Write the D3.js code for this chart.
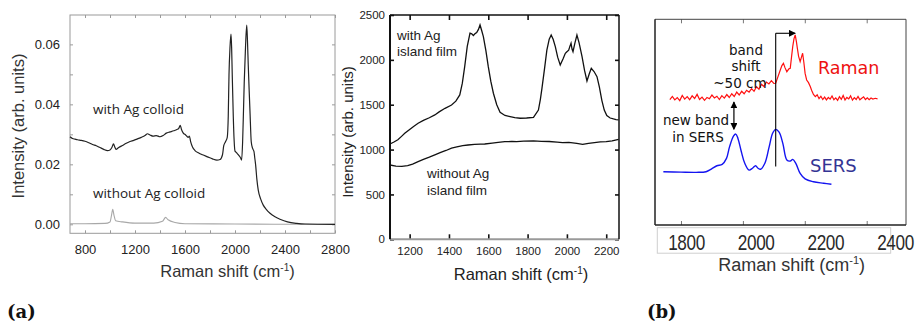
<!DOCTYPE html>
<html>
<head>
<meta charset="utf-8">
<script src="https://cdn.jsdelivr.net/npm/d3@7"></script>
<style>
  body { margin: 0; background: #fff; }
  svg { display: block; }
</style>
</head>
<body>
<svg id="fig" width="918" height="322"></svg>
<script>
// ---------------- Panel (a), left: Ag colloid spectra ----------------
const colloidShift = [680, 700, 720, 740, 770, 800, 830, 860, 890, 920, 950, 980, 1000, 1015, 1028, 1038, 1048, 1070, 1100, 1130, 1160, 1190, 1220, 1250, 1280, 1300, 1320, 1345, 1370, 1400, 1425, 1450, 1480, 1510, 1535, 1550, 1562, 1572, 1585, 1605, 1625, 1635, 1645, 1660, 1680, 1710, 1740, 1780, 1820, 1855, 1880, 1900, 1910, 1925, 1938, 1946, 1952, 1960, 1968, 1973, 1978, 1986, 1993, 2000, 2010, 2018, 2026, 2034, 2044, 2053, 2061, 2068, 2074, 2084, 2094, 2100, 2106, 2113, 2120, 2130, 2141, 2152, 2158, 2165, 2175, 2186, 2205, 2226, 2250, 2280, 2320, 2360, 2420, 2494, 2560, 2800];
const withColloid = [0.0292, 0.0286, 0.0284, 0.0282, 0.0280, 0.0277, 0.0272, 0.0266, 0.0262, 0.0256, 0.0250, 0.0246, 0.0248, 0.0256, 0.0268, 0.0258, 0.0250, 0.0256, 0.0263, 0.0270, 0.0276, 0.0280, 0.0285, 0.0290, 0.0296, 0.0302, 0.0298, 0.0294, 0.0296, 0.0292, 0.0296, 0.0304, 0.0308, 0.0312, 0.0316, 0.0320, 0.0330, 0.0316, 0.0305, 0.0298, 0.0290, 0.0294, 0.0276, 0.0258, 0.0246, 0.0238, 0.0232, 0.0225, 0.0218, 0.0214, 0.0216, 0.0232, 0.0262, 0.0276, 0.0290, 0.0360, 0.0498, 0.0590, 0.0634, 0.0590, 0.0498, 0.0364, 0.0280, 0.0244, 0.0240, 0.0236, 0.0232, 0.0228, 0.0222, 0.0214, 0.0275, 0.0380, 0.0475, 0.0590, 0.0664, 0.0610, 0.0531, 0.0450, 0.0375, 0.0275, 0.0253, 0.0242, 0.0222, 0.0198, 0.0150, 0.0114, 0.0085, 0.0064, 0.0050, 0.0037, 0.0025, 0.0017, 0.0008, 0.0003, 0.0001, 0.0000];
const plainShift = [680, 800, 960, 1000, 1012, 1022, 1032, 1045, 1100, 1200, 1350, 1420, 1445, 1465, 1520, 1600, 2000, 2400, 2800];
const withoutColloid = [0.0002, 0.0002, 0.0003, 0.0008, 0.0030, 0.0050, 0.0030, 0.0012, 0.0008, 0.0004, 0.0004, 0.0010, 0.0023, 0.0015, 0.0006, 0.0002, 0.0001, 0.0000, 0.0000];
const colloidXLabels = [800, 1200, 1600, 2000, 2400, 2800];
const colloidXMinor = [800, 1000, 1200, 1400, 1600, 1800, 2000, 2200, 2400, 2600, 2800];
const colloidYLabels = [0, 0.02, 0.04, 0.06];
const colloidYMinor = [0, 0.01, 0.02, 0.03, 0.04, 0.05, 0.06];

// ---------------- Panel (a), middle: Ag island film spectra ----------------
const filmShift = [1100, 1120, 1140, 1160, 1175, 1200, 1220, 1243, 1270, 1300, 1328, 1350, 1380, 1413, 1435, 1455, 1468, 1480, 1493, 1507, 1516, 1524, 1532, 1541, 1550, 1558, 1566, 1575, 1588, 1600, 1613, 1626, 1643, 1660, 1685, 1711, 1735, 1762, 1795, 1830, 1855, 1865, 1873, 1886, 1898, 1910, 1920, 1930, 1941, 1953, 1966, 1980, 1992, 2000, 2009, 2015, 2021, 2026, 2031, 2040, 2051, 2062, 2077, 2090, 2102, 2113, 2124, 2138, 2153, 2165, 2178, 2190, 2203, 2220, 2237, 2250, 2263];
const withFilm = [1062, 1085, 1110, 1150, 1181, 1225, 1258, 1293, 1325, 1355, 1386, 1420, 1460, 1497, 1540, 1609, 1740, 1924, 2150, 2297, 2290, 2270, 2290, 2305, 2340, 2389, 2330, 2259, 2100, 1924, 1760, 1628, 1500, 1416, 1380, 1367, 1355, 1349, 1352, 1360, 1441, 1560, 1683, 1900, 2108, 2230, 2277, 2230, 2147, 2030, 1943, 2010, 2073, 2090, 2108, 2150, 2185, 2120, 2091, 2180, 2277, 2190, 2036, 1880, 1765, 1840, 1906, 1870, 1813, 1700, 1546, 1440, 1379, 1352, 1341, 1335, 1330];
const bareShift = [1100, 1130, 1160, 1190, 1215, 1243, 1270, 1300, 1328, 1355, 1385, 1413, 1440, 1470, 1497, 1530, 1560, 1582, 1620, 1650, 1684, 1720, 1744, 1780, 1830, 1870, 1910, 1950, 1978, 2010, 2050, 2080, 2110, 2140, 2170, 2200, 2230, 2263];
const withoutFilm = [828, 815, 812, 820, 838, 865, 890, 915, 940, 965, 990, 1015, 1030, 1045, 1051, 1058, 1060, 1062, 1072, 1080, 1088, 1090, 1088, 1094, 1096, 1092, 1090, 1084, 1077, 1080, 1068, 1059, 1070, 1078, 1085, 1088, 1098, 1115];
const filmXTicks = [1200, 1400, 1600, 1800, 2000, 2200];
const filmYTicks = [0, 500, 1000, 1500, 2000, 2500];

// ---------------- Panel (b): Raman vs SERS ----------------
const ramanShift = [1764, 1772, 1780, 1788, 1796, 1804, 1812, 1820, 1828, 1836, 1844, 1852, 1860, 1868, 1876, 1884, 1892, 1900, 1908, 1916, 1924, 1932, 1940, 1948, 1956, 1964, 1972, 1980, 1988, 1996, 2004, 2012, 2020, 2028, 2036, 2044, 2052, 2060, 2068, 2076, 2084, 2092, 2100, 2106, 2112, 2120, 2126, 2131, 2136, 2142, 2148, 2153, 2157, 2161, 2165, 2169, 2173, 2176, 2180, 2185, 2189, 2193, 2197, 2201, 2206, 2212, 2218, 2222, 2228, 2234, 2240, 2246, 2252, 2258, 2264, 2270, 2276, 2282, 2288, 2294, 2300, 2306, 2312, 2318, 2324, 2330, 2336, 2342, 2348, 2354, 2360, 2366, 2372, 2378, 2384, 2390, 2396, 2402, 2408, 2414, 2420, 2428, 2435];
const ramanIntensity = [61.0, 62.5, 60.8, 61.9, 60.5, 63.0, 61.2, 62.4, 60.9, 62.8, 61.5, 63.5, 61.0, 62.2, 60.6, 62.0, 61.4, 63.2, 61.8, 62.6, 61.0, 62.9, 61.7, 63.4, 62.0, 63.8, 62.5, 64.6, 63.2, 65.0, 63.8, 65.5, 64.6, 66.3, 65.0, 67.2, 66.0, 68.4, 67.3, 69.5, 68.6, 70.2, 68.8, 68.9, 71.5, 75.0, 77.5, 78.6, 76.5, 74.5, 75.8, 76.2, 81.5, 86.7, 90.5, 92.4, 89.0, 85.9, 82.0, 79.4, 81.5, 83.5, 79.0, 73.7, 70.5, 69.2, 67.2, 65.5, 63.5, 62.4, 63.3, 61.4, 62.6, 61.0, 62.2, 60.8, 62.0, 61.2, 62.7, 60.9, 61.8, 60.6, 62.4, 61.1, 63.0, 60.8, 62.0, 61.3, 62.8, 60.7, 61.9, 61.0, 62.5, 60.9, 61.6, 62.3, 61.0, 61.8, 60.9, 61.7, 61.2, 61.6, 61.3];
const sersShift = [1743, 1800, 1849, 1881, 1898, 1916, 1933, 1947, 1957, 1970, 1977, 1984, 1995, 2006, 2020, 2031, 2041, 2049, 2057, 2071, 2085, 2096, 2106, 2117, 2129, 2142, 2153, 2161, 2171, 2185, 2201, 2228, 2261, 2286];
const sersIntensity = [25.9, 25.7, 25.6, 25.9, 27.2, 28.8, 29.5, 32.4, 38.1, 43.3, 44.2, 42.1, 35.6, 30.0, 26.7, 27.6, 28.8, 27.6, 27.1, 30.0, 38.1, 44.6, 46.5, 45.1, 39.7, 31.6, 31.1, 31.9, 30.0, 25.1, 22.4, 21.0, 20.3, 19.8];
const ramanFrameTicks = [1800, 2000, 2200, 2400];
const ramanTickLabels = [1800, 2000, 2200, 2400];

const svg = d3.select("#fig");
const sans = "'Liberation Sans', Arial, Helvetica, sans-serif";

const defs = svg.append("defs");
defs.append("marker").attr("id", "head").attr("viewBox", "0 0 10 10")
  .attr("refX", 9).attr("refY", 5).attr("markerWidth", 7).attr("markerHeight", 7)
  .attr("markerUnits", "userSpaceOnUse").attr("orient", "auto-start-reverse")
  .append("path").attr("d", "M0,0 L10,5 L0,10 Z").attr("fill", "#000");

function pairs(xs, ys) { return xs.map((x, i) => [x, ys[i]]); }

function styleAxis(g, color, font, size) {
  g.select(".domain").remove();
  g.selectAll("line").attr("stroke", color);
  g.selectAll("text").attr("fill", "#222").style("font-family", font).style("font-size", size + "px");
}

// ===== Panel (a) left =====
{
  const x = d3.scaleLinear().domain([680, 2800]).range([70, 335]);
  const y = d3.scaleLinear().domain([-0.003, 0.0698]).range([233.3, 15]);
  const g = svg.append("g");
  const fc = "#9a9a9a";

  g.append("g").attr("transform", "translate(0,233.3)")
    .call(d3.axisBottom(x).tickValues(colloidXMinor).tickSize(-3).tickFormat(""))
    .call(a => styleAxis(a, fc, sans, 13));
  g.append("g").attr("transform", "translate(0,233.3)")
    .call(d3.axisBottom(x).tickValues(colloidXLabels).tickSize(0).tickPadding(11).tickFormat(d3.format("d")))
    .call(a => styleAxis(a, fc, sans, 13));
  g.append("g").attr("transform", "translate(0,15)")
    .call(d3.axisTop(x).tickValues(colloidXMinor).tickSize(-3).tickFormat(""))
    .call(a => styleAxis(a, fc, sans, 13));
  g.append("g").attr("transform", "translate(70,0)")
    .call(d3.axisLeft(y).tickValues(colloidYMinor).tickSize(-3).tickFormat(""))
    .call(a => styleAxis(a, fc, sans, 13));
  g.append("g").attr("transform", "translate(70,0)")
    .call(d3.axisLeft(y).tickValues(colloidYLabels).tickSize(0).tickPadding(10).tickFormat(d3.format(".2f")))
    .call(a => styleAxis(a, fc, sans, 13));
  g.append("g").attr("transform", "translate(335,0)")
    .call(d3.axisRight(y).tickValues(colloidYMinor).tickSize(-3).tickFormat(""))
    .call(a => styleAxis(a, fc, sans, 13));

  g.append("rect").attr("x", 70).attr("y", 15).attr("width", 265).attr("height", 218.3)
    .attr("fill", "none").attr("stroke", fc).attr("stroke-width", 1);

  const line = d3.line().x(d => x(d[0])).y(d => y(d[1])).curve(d3.curveMonotoneX);
  g.append("path").datum(pairs(plainShift, withoutColloid)).attr("d", line)
    .attr("fill", "none").attr("stroke", "#a8a8a8").attr("stroke-width", 1.1);
  g.append("path").datum(pairs(colloidShift, withColloid)).attr("d", line)
    .attr("fill", "none").attr("stroke", "#222").attr("stroke-width", 1.2);

  const lab = "'Open Sans', 'Noto Sans', sans-serif";
  g.append("text").attr("x", 93).attr("y", 114).text("with Ag colloid")
    .style("font-family", lab).style("font-size", "13.5px").attr("fill", "#222");
  g.append("text").attr("x", 93).attr("y", 198).text("without Ag colloid")
    .style("font-family", lab).style("font-size", "13.5px").attr("fill", "#222");

  const yt = g.append("text").attr("transform", "translate(24,126) rotate(-90)")
    .attr("text-anchor", "middle").style("font-family", sans).style("font-size", "16.5px").attr("fill", "#333");
  yt.text("Intensity (arb. units)");
  const xt = g.append("text").attr("x", 227.5).attr("y", 277).attr("text-anchor", "middle")
    .style("font-family", sans).style("font-size", "16.5px").attr("fill", "#333");
  xt.append("tspan").text("Raman shift (cm");
  xt.append("tspan").attr("dy", -6).style("font-size", "10px").text("-1");
  xt.append("tspan").attr("dy", 6).text(")");
}

// ===== Panel (a) middle =====
{
  const x = d3.scaleLinear().domain([1100, 2265]).range([390, 619]);
  const y = d3.scaleLinear().domain([0, 2500]).range([239.3, 15]);
  const g = svg.append("g");

  g.append("g").attr("transform", "translate(0,239.3)")
    .call(d3.axisBottom(x).tickValues(filmXTicks).tickSize(-5).tickPadding(8).tickFormat(d3.format("d")))
    .call(a => styleAxis(a, "#111", sans, 11.5));
  g.append("g").attr("transform", "translate(0,15)")
    .call(d3.axisTop(x).tickValues(filmXTicks).tickSize(-5).tickFormat(""))
    .call(a => styleAxis(a, "#111", sans, 11.5));
  g.append("g").attr("transform", "translate(390,0)")
    .call(d3.axisLeft(y).tickValues(filmYTicks).tickSize(-4).tickPadding(5).tickFormat(d3.format("d")))
    .call(a => styleAxis(a, "#111", sans, 11.5));
  g.append("g").attr("transform", "translate(619,0)")
    .call(d3.axisRight(y).tickValues(filmYTicks).tickSize(-4).tickFormat(""))
    .call(a => styleAxis(a, "#111", sans, 11.5));
  g.selectAll("g.tick line").attr("stroke-width", 1.6);

  g.append("line").attr("x1", 390).attr("x2", 619).attr("y1", 239.3).attr("y2", 239.3)
    .attr("stroke", "#9a9a9a").attr("stroke-width", 2);
  g.append("line").attr("x1", 390).attr("x2", 619).attr("y1", 15).attr("y2", 15)
    .attr("stroke", "#111").attr("stroke-width", 1.5);
  g.append("line").attr("x1", 390).attr("x2", 390).attr("y1", 15).attr("y2", 239.3)
    .attr("stroke", "#111").attr("stroke-width", 2);
  g.append("line").attr("x1", 619).attr("x2", 619).attr("y1", 15).attr("y2", 239.3)
    .attr("stroke", "#111").attr("stroke-width", 1.5);

  const line = d3.line().x(d => x(d[0])).y(d => y(d[1]));
  g.append("path").datum(pairs(bareShift, withoutFilm)).attr("d", line)
    .attr("fill", "none").attr("stroke", "#111").attr("stroke-width", 1.3);
  g.append("path").datum(pairs(filmShift, withFilm)).attr("d", line)
    .attr("fill", "none").attr("stroke", "#111").attr("stroke-width", 1.3);

  const t = (tx, ty, s) => g.append("text").attr("x", tx).attr("y", ty).text(s)
    .style("font-family", sans).style("font-size", "13.5px").attr("fill", "#222");
  t(397, 39.5, "with Ag");
  t(397, 56, "island film");
  t(427, 178, "without Ag");
  t(427, 195, "island film");

  g.append("text").attr("transform", "translate(353,132) rotate(-90)").attr("text-anchor", "middle")
    .style("font-family", sans).style("font-size", "15px").attr("fill", "#222").text("Intensity (arb. units)");
  const xt = g.append("text").attr("x", 521).attr("y", 280).attr("text-anchor", "middle")
    .style("font-family", sans).style("font-size", "16.5px").attr("fill", "#222");
  xt.append("tspan").text("Raman shift (cm");
  xt.append("tspan").attr("dy", -6).style("font-size", "10px").text("-1");
  xt.append("tspan").attr("dy", 6).text(")");
}

// ===== Panel (b) =====
{
  const x = d3.scaleLinear().domain([1716, 2527]).range([655, 906]);
  const y = d3.scaleLinear().domain([0, 100]).range([225, 19.3]);
  const xl = d3.scaleLinear().domain([1800, 2400]).range([686, 895]);
  const g = svg.append("g");

  g.append("g").attr("transform", "translate(0,225)")
    .call(d3.axisBottom(x).tickValues(ramanFrameTicks).tickSize(-4).tickFormat(""))
    .call(a => styleAxis(a, "#777", sans, 12));
  g.append("g").attr("transform", "translate(0,19.3)")
    .call(d3.axisTop(x).tickValues(ramanFrameTicks).tickSize(-4).tickFormat(""))
    .call(a => styleAxis(a, "#777", sans, 12));

  g.append("line").attr("x1", 655).attr("x2", 906).attr("y1", 19.3).attr("y2", 19.3).attr("stroke", "#444").attr("stroke-width", 1);
  g.append("line").attr("x1", 906).attr("x2", 906).attr("y1", 19.3).attr("y2", 225).attr("stroke", "#444").attr("stroke-width", 1);
  g.append("line").attr("x1", 655).attr("x2", 906).attr("y1", 225).attr("y2", 225).attr("stroke", "#222").attr("stroke-width", 1.3);
  g.append("line").attr("x1", 655).attr("x2", 655).attr("y1", 19.3).attr("y2", 225).attr("stroke", "#222").attr("stroke-width", 1.5);

  // tick-label strip
  g.append("rect").attr("x", 657.3).attr("y", 227.7).attr("width", 233.4).attr("height", 25.5)
    .attr("fill", "#fff").attr("stroke", "#cfcfcf").attr("stroke-width", 1);
  const lab = g.append("g").attr("transform", "translate(0,227.7)")
    .call(d3.axisBottom(xl).tickValues(ramanTickLabels).tickSize(0).tickPadding(7).tickFormat(d3.format("d")))
    .call(a => styleAxis(a, "#777", sans, 22));
  lab.selectAll("text").attr("fill", "#2a2a2a").attr("transform", "scale(0.78,1)")
    .style("letter-spacing", "-0.5px");

  const xt = g.append("text").attr("x", 791.7).attr("y", 271).attr("text-anchor", "middle")
    .style("font-family", sans).style("font-size", "18px").attr("fill", "#333");
  xt.append("tspan").text("Raman shift (cm");
  xt.append("tspan").attr("dy", -7).style("font-size", "11px").text("-1");
  xt.append("tspan").attr("dy", 7).text(")");

  const line = d3.line().x(d => x(d[0])).y(d => y(d[1]));
  g.append("path").datum(pairs(ramanShift, ramanIntensity)).attr("d", line)
    .attr("fill", "none").attr("stroke", "#ff1010").attr("stroke-width", 1.2);
  g.append("path").datum(pairs(sersShift, sersIntensity)).attr("d", line.curve(d3.curveCatmullRom))
    .attr("fill", "none").attr("stroke", "#1414f0").attr("stroke-width", 1.4);

  // band-shift marker
  const peakSERS = sersShift[sersIntensity.indexOf(d3.max(sersIntensity))];
  const peakRaman = ramanShift[ramanIntensity.indexOf(d3.max(ramanIntensity))];
  g.append("line").attr("x1", x(peakSERS)).attr("x2", x(peakSERS)).attr("y1", y(28.4)).attr("y2", y(93.2))
    .attr("stroke", "#000").attr("stroke-width", 1.1);
  g.append("line").attr("x1", x(peakSERS)).attr("x2", x(peakRaman)).attr("y1", y(93.2)).attr("y2", y(93.2))
    .attr("stroke", "#000").attr("stroke-width", 1.1).attr("marker-end", "url(#head)");
  // new band marker
  g.append("line").attr("x1", x(1971)).attr("x2", x(1971)).attr("y1", y(59.8)).attr("y2", y(46.5))
    .attr("stroke", "#000").attr("stroke-width", 1.2)
    .attr("marker-start", "url(#head)").attr("marker-end", "url(#head)");

  const dv = "'DejaVu Sans', Verdana, sans-serif";
  const t = (tx, ty, s, anchor, size, color) => g.append("text").attr("x", tx).attr("y", ty).text(s)
    .attr("text-anchor", anchor).style("font-family", dv).style("font-size", size + "px").attr("fill", color);
  t(746, 55, "band", "middle", 13.5, "#111");
  t(746, 71, "shift", "middle", 13.5, "#111");
  t(740, 88, "~50 cm", "middle", 13.5, "#111");
  t(696, 125, "new band", "middle", 13.5, "#111");
  t(698, 141.5, "in SERS", "middle", 13.5, "#111");
  t(818, 74, "Raman", "start", 17.5, "#ee1111");
  t(810, 172, "SERS", "start", 18, "#343494");
}

// ---------------- panel letters ----------------
const serifB = "'DejaVu Serif', 'Liberation Serif', serif";
svg.append("text").attr("x", 7).attr("y", 318).text("(a)")
  .style("font-family", serifB).style("font-weight", "bold").style("font-size", "18px").attr("fill", "#111");
svg.append("text").attr("x", 647).attr("y", 318).text("(b)")
  .style("font-family", serifB).style("font-weight", "bold").style("font-size", "18px").attr("fill", "#111");
</script>
</body>
</html>
